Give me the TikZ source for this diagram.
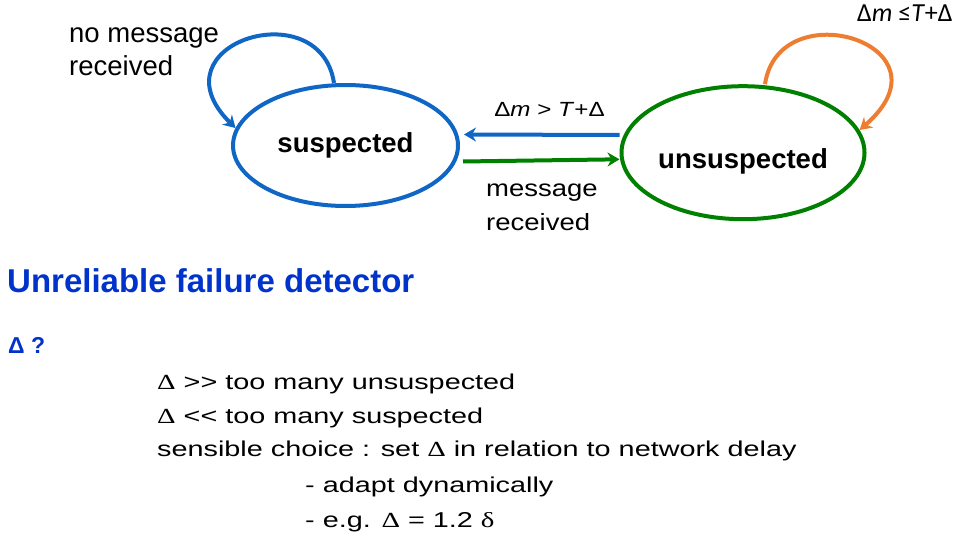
\documentclass[tikz,border=0pt]{standalone}
\usepackage{fontspec}
\setmainfont{Liberation Sans}
\newfontfamily\calib{Carlito}
\newfontfamily\symserif{Liberation Serif}
\usetikzlibrary{shapes.geometric,arrows.meta}
\definecolor{stblue}{RGB}{16,102,196}
\definecolor{stgreen}{RGB}{0,128,0}
\definecolor{storange}{RGB}{237,125,49}
\definecolor{headblue}{RGB}{0,51,204}
\newcommand{\wider}[2]{\scalebox{#1}[1]{#2}}
\begin{document}
\begin{tikzpicture}
          [x=1pt,y=-1pt,
          state/.style={shape=ellipse,draw=#1,line width=4pt,fill=white,inner sep=0pt,font=\fontsize{27.5}{33}\selectfont\bfseries},
          arc/.style={-{Stealth[length=12pt,width=14pt,inset=4pt]},line width=4pt},
          lbl/.style={inner sep=0pt,anchor=base west,align=left,font=\fontsize{27.5}{33}\selectfont},
          item/.style={inner sep=0pt,anchor=base west,font=\fontsize{21.5}{24}\selectfont}]

            \useasboundingbox (0,0) rectangle (973,537);

            \node (susp) [state=stblue,minimum width=225pt,minimum height=121pt] at (345.5,145.5) {suspected};
            \node (unsusp) [state=stgreen,minimum width=243pt,minimum height=133pt,text height=38pt] at (743,152.7) {unsuspected};

            \draw [arc,stblue] ([xshift=-11.5pt]susp.north) .. controls +(-14,-92) and +(-85,-84) .. (susp.171);
            \draw [arc,storange] ([xshift=22pt]unsusp.north) .. controls +(14,-94) and +(98,-85) .. (unsusp.11);
            \draw [arc,stblue] ([yshift=17.7pt]unsusp.west) -- ([xshift=4pt,yshift=11pt]susp.east);
            \draw [arc,stgreen] ([xshift=3pt,yshift=-16pt]susp.east) -- ([yshift=-6.6pt]unsusp.west);

            \node (nomsg) [lbl] at (69,76) {no message\\received};
            \node (late) [inner sep=0pt,anchor=base,font=\fontsize{20.5}{24}\selectfont] at (549.5,117) {\wider{1.18}{Δ\textit{m} > \textit{T}+Δ}};
            \node (msg) [lbl,font=\fontsize{23.5}{33}\selectfont] at (486,230) {\wider{1.17}{message}\\\wider{1.17}{received}};
            \node (intime) [inner sep=0pt,anchor=base west,font=\fontsize{26}{32}\selectfont\calib] at (857,21.7) {Δ\textit{m} ≤\textit{T}+Δ};

            \node (head) [inner sep=0pt,anchor=base west,text=headblue,font=\fontsize{33}{40}\selectfont\bfseries] at (7,292) {Unreliable failure detector};
            \node (quest) [inner sep=0pt,anchor=base west,text=headblue,font=\fontsize{23}{30}\selectfont\bfseries] at (8,353) {Δ ?};
            \node (big) [item] at (157,389) {\wider{1.34}{{\symserif Δ} >{}> too many unsuspected}};
            \node (small) [item] at (157,423.3) {\wider{1.34}{{\symserif Δ} <{}< too many suspected}};
            \node (choice) [item] at (157,456.7) {\wider{1.34}{sensible choice : set {\symserif Δ} in relation to network delay}};
            \node (adapt) [item] at (305,492) {\wider{1.34}{- adapt dynamically}};
            \node (eg) [item] at (305,527) {\wider{1.34}{- e.g. {\symserif Δ} = 1.2 {\symserif δ}}};

        \end{tikzpicture}
\end{document}
